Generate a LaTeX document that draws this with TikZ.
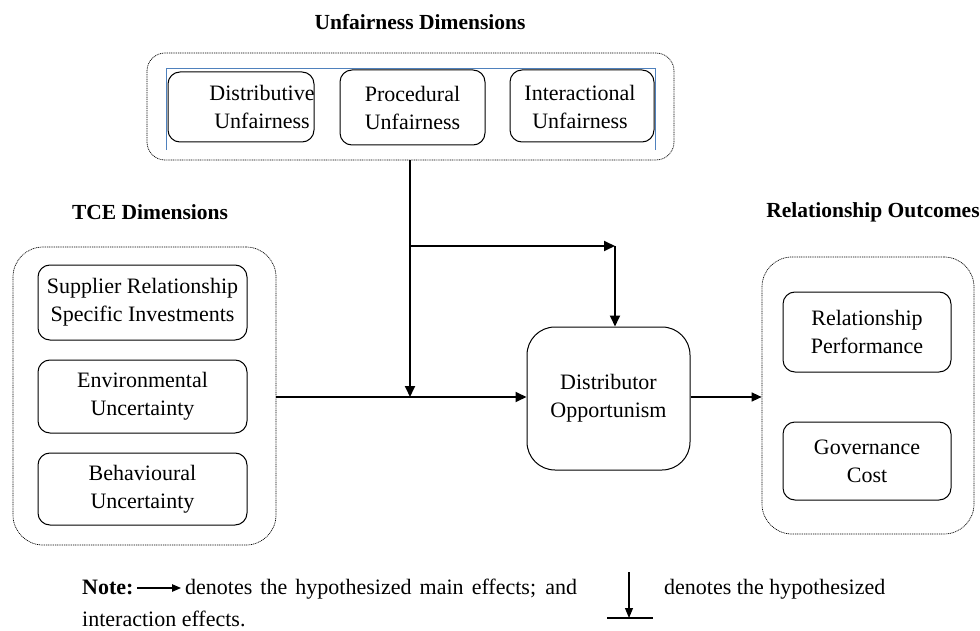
\documentclass[tikz,border=0pt]{standalone}
\usepackage{fontspec}
\setmainfont{Liberation Serif}
\usetikzlibrary{arrows.meta}
\definecolor{frameblue}{RGB}{79,129,189}
\begin{document}
\begin{tikzpicture}[x=1pt,y=-1pt,
 inbox/.style={draw,line width=1pt,rounded corners=12pt,inner sep=0pt,align=center,font=\fontsize{22}{28}\selectfont},
 grp/.style={draw,line width=0.7pt,dash pattern=on 1pt off 0.8pt,rounded corners=24pt,inner sep=0pt},
 ttl/.style={font=\fontsize{21.5}{26}\selectfont\bfseries,inner sep=0pt},
 txt/.style={font=\fontsize{22}{28}\selectfont,align=center,inner sep=0pt},
 ntxt/.style={font=\fontsize{22}{28}\selectfont,inner sep=0pt,anchor=base west},
 arr/.style={line width=1.8pt,-{Triangle[length=11pt,width=10pt]}},
 ]
\useasboundingbox (0,0) rectangle (980,631);

% titles
\node[ttl] (t1) at (420,22) {Unfairness Dimensions};
\node[ttl] (t2) at (150,212) {TCE Dimensions};
\node[ttl] (t3) at (873,212) {Relationship Outcomes};

% group frames
\node[grp,minimum width=527pt,minimum height=107pt,rounded corners=18pt] (uf) at (410.5,106.5) {};
\node[grp,minimum width=263pt,minimum height=298pt,rounded corners=30pt] (tce) at (144.5,396) {};
\node[grp,minimum width=212pt,minimum height=277pt,rounded corners=30pt] (ro) at (868,395.5) {};

% blue frame
\coordinate (bl1) at (166,150);
\coordinate (bl2) at (166,68);
\coordinate (bl3) at (655,68);
\coordinate (bl4) at (655,150);
\draw[frameblue,line width=0.8pt] (bl1) -- (bl2) -- (bl3) -- (bl4);

% unfairness boxes
\node[inbox,minimum width=146pt,minimum height=70pt] (du) at (241,107) {};
\node[txt] (dut) at (262,107) {Distributive\\Unfairness};
\node[inbox,minimum width=145pt,minimum height=75pt] (pu) at (412.5,107.5) {Procedural\\Unfairness};
\node[inbox,minimum width=144pt,minimum height=72pt] (iu) at (582,106) {};
\node[txt] (iut) at (580,107) {Interactional\\Unfairness};

% TCE boxes
\node[inbox,minimum width=209pt,minimum height=75pt] (sr) at (142.5,302.5) {Supplier Relationship\\Specific Investments};
\node[inbox,minimum width=209pt,minimum height=73pt] (eu) at (142.5,396.5) {Environmental\\Uncertainty};
\node[inbox,minimum width=209pt,minimum height=72pt] (bu) at (142.5,489) {Behavioural\\Uncertainty};

% central box
\node[inbox,minimum width=163pt,minimum height=143pt,rounded corners=28pt] (dop) at (608.5,398.5) {Distributor\\Opportunism};

% outcome boxes
\node[inbox,minimum width=168pt,minimum height=80pt] (rp) at (867,332) {Relationship\\Performance};
\node[inbox,minimum width=168pt,minimum height=78pt] (gc) at (867,461) {Governance\\Cost};

% connectors
\coordinate (j) at (410,397);
\coordinate (b1) at (410,246);
\coordinate (b2) at (615,246);
\draw[arr] (uf.south -| j) -- (j);
\draw[arr] (b1) -- (b2);
\draw[arr] (b2) -- (b2 |- dop.north);
\draw[arr] (tce.east |- j) -- (dop.west |- j);
\draw[line width=1.4pt,-{Triangle[length=10pt,width=9pt]}] (dop.east |- j) -- (ro.west |- j);

% note
\node[ntxt,font=\fontsize{22}{28}\selectfont\bfseries] (note) at (82,594) {Note:};
\coordinate (na1) at (137,588);
\coordinate (na2) at (181,588);
\draw[line width=1.1pt,-{Triangle[length=9pt,width=7.5pt]}] (na1) -- (na2);
\node[ntxt] (n1) at (185,594) {\makebox[392pt][s]{denotes the hypothesized main effects; and}};
\coordinate (s1) at (629,572);
\coordinate (s2) at (629,618);
\coordinate (s3) at (607,618);
\coordinate (s4) at (653,618);
\draw[line width=1.1pt,-{Triangle[length=10pt,width=8pt]}] (s1) -- (s2);
\draw[line width=1.1pt] (s3) -- (s4);
\node[ntxt] (n2) at (664,594) {denotes the hypothesized};
\node[ntxt] (n3) at (82,626) {interaction effects.};
\end{tikzpicture}
\end{document}
